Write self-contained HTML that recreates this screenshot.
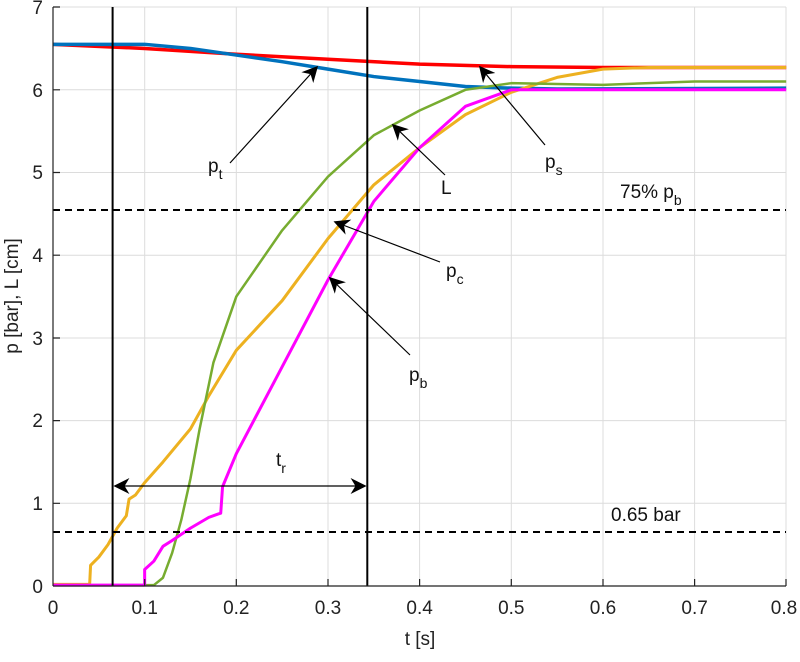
<!DOCTYPE html><html><head><style>body{margin:0;background:#fff}svg{font-family:"Liberation Sans",Arial,sans-serif}</style></head><body>
<svg width="800" height="657" xmlns="http://www.w3.org/2000/svg">
<defs><marker id="ah" viewBox="0 0 10 10" refX="9" refY="5" markerWidth="20" markerHeight="16" orient="auto-start-reverse" markerUnits="userSpaceOnUse"><path d="M0,0 L10,5 L0,10 L3,5z" fill="#000"/></marker></defs>
<g stroke="#dcdcdc" stroke-width="1">
<line x1="144.7" y1="7" x2="144.7" y2="586"/><line x1="236.3" y1="7" x2="236.3" y2="586"/><line x1="328" y1="7" x2="328" y2="586"/><line x1="419.6" y1="7" x2="419.6" y2="586"/><line x1="511.3" y1="7" x2="511.3" y2="586"/><line x1="603" y1="7" x2="603" y2="586"/><line x1="694.6" y1="7" x2="694.6" y2="586"/><line x1="786" y1="7" x2="786" y2="586"/>
<line x1="53" y1="7" x2="786" y2="7"/><line x1="53" y1="89.8" x2="786" y2="89.8"/><line x1="53" y1="172.5" x2="786" y2="172.5"/><line x1="53" y1="255.2" x2="786" y2="255.2"/><line x1="53" y1="338" x2="786" y2="338"/><line x1="53" y1="420.6" x2="786" y2="420.6"/><line x1="53" y1="503.3" x2="786" y2="503.3"/>
</g>
<g transform="translate(53,586) scale(916.5,-82.7)" fill="none" stroke-linejoin="round">
<polyline vector-effect="non-scaling-stroke" stroke="#ff0000" stroke-width="3.5" points="0,6.55 0.1,6.5 0.2,6.43 0.3,6.37 0.4,6.31 0.5,6.28 0.6,6.27 0.8,6.27"/>
<polyline vector-effect="non-scaling-stroke" stroke="#0072bd" stroke-width="3.5" points="0,6.55 0.1,6.55 0.15,6.5 0.2,6.42 0.25,6.34 0.3,6.25 0.35,6.16 0.4,6.1 0.45,6.04 0.5,6.02 0.55,6.01 0.8,6.02"/>
<polyline vector-effect="non-scaling-stroke" stroke="#edb120" stroke-width="3" points="0,0.02 0.04,0.02 0.041,0.25 0.05,0.35 0.06,0.5 0.07,0.7 0.08,0.85 0.083,1.05 0.09,1.1 0.1,1.25 0.12,1.5 0.15,1.9 0.17,2.3 0.2,2.85 0.25,3.45 0.3,4.2 0.35,4.85 0.4,5.3 0.45,5.7 0.5,5.97 0.55,6.15 0.6,6.25 0.65,6.27 0.8,6.27"/>
<polyline vector-effect="non-scaling-stroke" stroke="#77ac30" stroke-width="2.5" points="0,0.01 0.11,0.01 0.12,0.1 0.13,0.4 0.14,0.8 0.15,1.3 0.16,1.9 0.175,2.7 0.2,3.5 0.25,4.3 0.3,4.95 0.35,5.45 0.4,5.75 0.45,6.0 0.5,6.08 0.6,6.06 0.7,6.1 0.8,6.1"/>
<polyline vector-effect="non-scaling-stroke" stroke="#ff00ff" stroke-width="3" points="0,0.01 0.1,0.01 0.1,0.2 0.11,0.3 0.12,0.48 0.13,0.55 0.15,0.7 0.17,0.83 0.18,0.87 0.183,0.88 0.185,1.2 0.2,1.6 0.25,2.65 0.3,3.7 0.35,4.65 0.4,5.3 0.45,5.8 0.5,6.0 0.55,6.0 0.8,6.0"/>
</g>
<g stroke="#000" stroke-width="2"><line x1="112.6" y1="7" x2="112.6" y2="586"/><line x1="367.3" y1="7" x2="367.3" y2="586"/>
<line x1="53" y1="210" x2="786" y2="210" stroke-dasharray="7,5"/><line x1="53" y1="532" x2="786" y2="532" stroke-dasharray="7,5"/></g>
<g stroke="#000" stroke-width="1.2" marker-end="url(#ah)">
<line x1="115" y1="486" x2="365" y2="486" marker-start="url(#ah)"/>
<line x1="230" y1="163" x2="317" y2="67"/>
<line x1="545" y1="145" x2="480" y2="67"/>
<line x1="445" y1="175" x2="393" y2="125"/>
<line x1="440" y1="262" x2="335" y2="222"/>
<line x1="410" y1="355" x2="330" y2="278"/>
</g>
<g font-size="19" fill="#111">
<text x="208" y="172">p<tspan font-size="14" dy="7">t</tspan></text>
<text x="545" y="168">p<tspan font-size="14" dy="7">s</tspan></text>
<text x="441" y="194">L</text>
<text x="446" y="277">p<tspan font-size="14" dy="7">c</tspan></text>
<text x="409" y="381">p<tspan font-size="14" dy="7">b</tspan></text>
<text x="276" y="466">t<tspan font-size="14" dy="7">r</tspan></text>
<text x="620" y="198">75% p<tspan font-size="14" dy="7">b</tspan></text>
<text x="611" y="521">0.65 bar</text>
</g>
<g stroke="#222" stroke-width="1.2"><line x1="53" y1="7" x2="53" y2="586"/><line x1="53" y1="586" x2="786" y2="586"/>
<path d="M53,7h7M53,89.8h7M53,172.5h7M53,255.2h7M53,338h7M53,420.6h7M53,503.3h7M144.7,586v-7M236.3,586v-7M328,586v-7M419.6,586v-7M511.3,586v-7M603,586v-7M694.6,586v-7M786,586v-7"/></g>
<g font-size="19" fill="#222" text-anchor="end">
<text x="43" y="593">0</text><text x="43" y="510">1</text><text x="43" y="427">2</text><text x="43" y="345">3</text><text x="43" y="262">4</text><text x="43" y="179">5</text><text x="43" y="97">6</text><text x="43" y="14">7</text>
</g>
<g font-size="19" fill="#222" text-anchor="middle">
<text x="53" y="614">0</text><text x="144.7" y="614">0.1</text><text x="236.3" y="614">0.2</text><text x="328" y="614">0.3</text><text x="419.6" y="614">0.4</text><text x="511.3" y="614">0.5</text><text x="603" y="614">0.6</text><text x="694.6" y="614">0.7</text><text x="784" y="614">0.8</text>
<text x="420" y="645">t [s]</text>
<text transform="translate(18,296) rotate(-90)">p [bar], L [cm]</text>
</g>
</svg></body></html>
